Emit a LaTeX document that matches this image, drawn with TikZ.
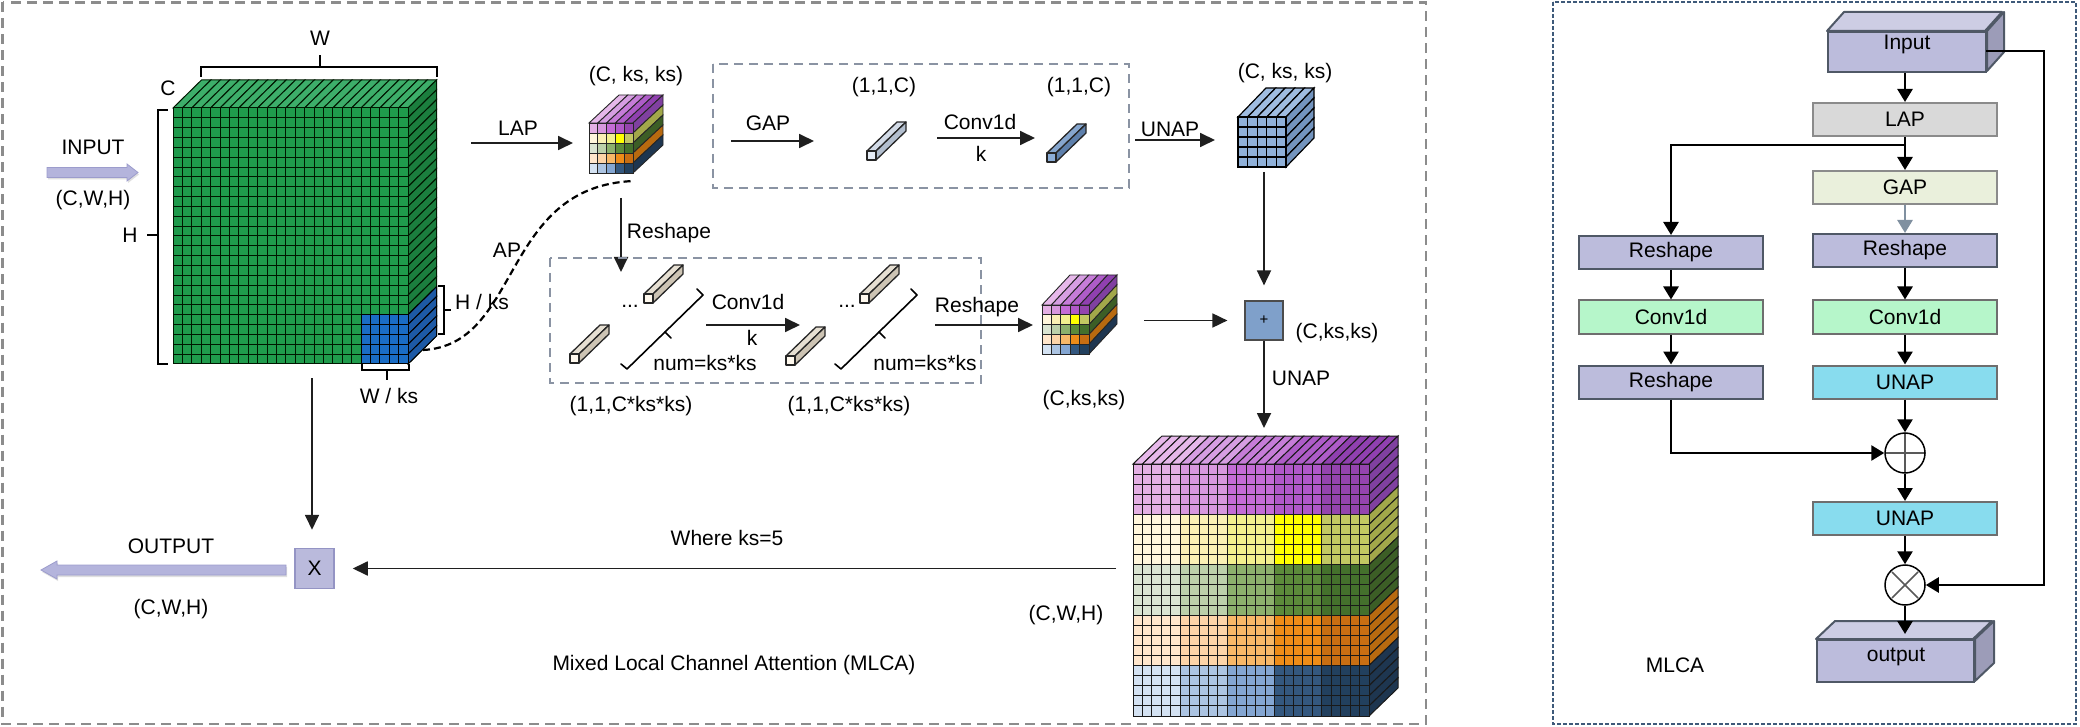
\documentclass[tikz,border=0pt]{standalone}
\usepackage{fontspec}
\setmainfont{Liberation Sans}
\usetikzlibrary{arrows.meta,decorations.pathreplacing,shadows}

% green input cube
\definecolor{gr00}{HTML}{1F9B4C}
\definecolor{grt0}{HTML}{3DAE6A}
\definecolor{grs0}{HTML}{1B7E3E}
\definecolor{blf}{HTML}{1A6CC4}
\definecolor{bls}{HTML}{1D5AA6}
% coloured cubes
\definecolor{c00}{HTML}{E4B0E4}\definecolor{c01}{HTML}{D898DE}\definecolor{c02}{HTML}{C46CD6}\definecolor{c03}{HTML}{B058C8}\definecolor{c04}{HTML}{9444AE}
\definecolor{c10}{HTML}{FFF6DC}\definecolor{c11}{HTML}{FAF0B4}\definecolor{c12}{HTML}{F2F08E}\definecolor{c13}{HTML}{FFFF00}\definecolor{c14}{HTML}{C2C862}
\definecolor{c20}{HTML}{DAE4D2}\definecolor{c21}{HTML}{BCD0AA}\definecolor{c22}{HTML}{8CB06C}\definecolor{c23}{HTML}{5C8A3A}\definecolor{c24}{HTML}{44702C}
\definecolor{c30}{HTML}{FFE6CC}\definecolor{c31}{HTML}{FDD4A8}\definecolor{c32}{HTML}{F8B868}\definecolor{c33}{HTML}{EE8C18}\definecolor{c34}{HTML}{C86E12}
\definecolor{c40}{HTML}{D4E2F2}\definecolor{c41}{HTML}{ACC4E2}\definecolor{c42}{HTML}{84A6D2}\definecolor{c43}{HTML}{34587F}\definecolor{c44}{HTML}{22405E}
\definecolor{ct0}{HTML}{E6B8EA}\definecolor{ct1}{HTML}{D69EE2}\definecolor{ct2}{HTML}{C67CD8}\definecolor{ct3}{HTML}{AE5CC8}\definecolor{ct4}{HTML}{9040B0}
\definecolor{cs0}{HTML}{8040A0}\definecolor{cs1}{HTML}{A2A84A}\definecolor{cs2}{HTML}{3C5E26}\definecolor{cs3}{HTML}{B86A10}\definecolor{cs4}{HTML}{1E3650}
% UNAP cube
\definecolor{ub00}{HTML}{8FB0D8}\definecolor{ubt0}{HTML}{9FBCE0}\definecolor{ubs0}{HTML}{7394BE}
% bars
\definecolor{baf}{HTML}{FFF9EE}\definecolor{bat}{HTML}{E6DFD2}\definecolor{bas}{HTML}{CDC4B4}
\definecolor{bbf}{HTML}{E6EDF6}\definecolor{bbt}{HTML}{D2DAE6}\definecolor{bbs}{HTML}{B2BECE}
\definecolor{bcf}{HTML}{8CAED8}\definecolor{bct}{HTML}{86A6CE}\definecolor{bcs}{HTML}{5E80AC}
% misc
\definecolor{dashg}{HTML}{8A93A3}
\definecolor{outerg}{HTML}{8C8C8C}
\definecolor{rbd}{HTML}{3E5A7A}
\definecolor{lav}{HTML}{B4B4DC}
\definecolor{lavd}{HTML}{9C9CCC}
\definecolor{xboxf}{HTML}{BABADC}
\definecolor{xboxd}{HTML}{9494C4}
\definecolor{plusf}{HTML}{7FA0CA}
\definecolor{inpf}{HTML}{BCBCDC}
\definecolor{inpt}{HTML}{CDCDE4}
\definecolor{inps}{HTML}{9C9CB8}
\definecolor{inpd}{HTML}{4F5866}
\definecolor{lapf}{HTML}{D9D9D9}
\definecolor{gapf}{HTML}{EAF0DC}
\definecolor{cnvf}{HTML}{B6F6CA}
\definecolor{unf}{HTML}{88DCEE}
\definecolor{boxd}{HTML}{6E6E6E}
\definecolor{grayarrow}{HTML}{8090A0}

\def\mlgroup{1}
% #1 prefix, #2 x, #3 y, #4 ncols, #5 nrows, #6 w, #7 h, #8 dx, #9 dy
\newcommand\mlcube[9]{%
  \pgfmathtruncatemacro\mlnc{#4-1}%
  \pgfmathtruncatemacro\mlnr{#5-1}%
  \foreach \i in {0,...,\mlnc}{%
    \pgfmathtruncatemacro\mlsh{int(\i/\mlgroup)}%
    \filldraw[mlcl, fill=#1t\mlsh] ({#2+\i*#6},{#3}) -- ++({#8},{#9}) -- ++({#6},0) -- ++({-(#8)},{-(#9)}) -- cycle;
  }%
  \foreach \j in {0,...,\mlnr}{%
    \pgfmathtruncatemacro\mlbd{int(\j/\mlgroup)}%
    \filldraw[mlcl, fill=#1s\mlbd] ({#2+#4*#6},{#3+\j*#7}) -- ++({#8},{#9}) -- ++(0,{#7}) -- ++({-(#8)},{-(#9)}) -- cycle;
    \foreach \i in {0,...,\mlnc}{%
      \pgfmathtruncatemacro\mlsh{int(\i/\mlgroup)}%
      \filldraw[mlcl, fill=#1\mlbd\mlsh] ({#2+\i*#6},{#3+\j*#7}) rectangle ++({#6},{#7});
    }%
  }%
}
% small 3D bar: #1 x, #2 y of bottom-left of front face, #3 colour prefix
\newcommand\mlbar[3]{%
  \filldraw[barl, fill=#3t] ({#1},{#2-9}) -- ++(30,-29) -- ++(9,0) -- ++(-30,29) -- cycle;
  \filldraw[barl, fill=#3s] ({#1+9},{#2-9}) -- ++(30,-29) -- ++(0,9) -- ++(-30,29) -- cycle;
  \filldraw[barl, fill=#3f] ({#1},{#2}) rectangle ++(9,-9);
}
% slanted bracket: #1 x, #2 y of its lower corner
\newcommand\mlbrack[2]{%
  \draw[line width=1.6pt, line join=round, line cap=round] ({#1-6},{#2-5}) -- ({#1},{#2}) -- ({#1+76},{#2-74}) -- ({#1+70},{#2-80});
  \draw[line width=1.6pt, line cap=round] ({#1+38},{#2-37}) -- ({#1+44},{#2-31});
}

\tikzset{
  mlcl/.style={draw=black!85, line width=0.8pt},
  barl/.style={draw=black!85, line width=1.3pt, line join=round},
  lbl/.style={font=\fontsize{21}{25}\selectfont, inner sep=0pt},
  arr/.style={line width=1.8pt, draw=black!88, -{Triangle[length=15pt,width=14pt]}},
  rarr/.style={line width=2.6pt, -{Triangle[length=13pt,width=15pt]}},
  brk/.style={line width=2.6pt, line cap=rect},
  idash/.style={draw=dashg, line width=2.4pt, dash pattern=on 9pt off 6pt},
  rbox/.style={minimum width=184pt, minimum height=33pt, inner sep=0pt, line width=2pt, draw=boxd, font=\fontsize{21}{25}\selectfont},
  circ/.style={circle, draw=black, line width=1.5pt, fill=white, minimum size=40pt, inner sep=0pt},
}

\begin{document}
\begin{tikzpicture}[x=1pt,y=-1pt]
\useasboundingbox (0,0) rectangle (2080,727);
\fill[white] (0,0) rectangle (2080,727);

% ---------------- frames ----------------
\draw[draw=outerg, line width=2.6pt, dash pattern=on 10pt off 6pt] (2.5,2.5) rectangle (1426,724);
\draw[draw=rbd, line width=1.6pt, dash pattern=on 4pt off 2pt] (1553,2) rectangle (2076,724);

% ---------------- green input cube ----------------
\tikzset{mlcl/.style={draw=black!70!green!30!black, line width=1.0pt}}
\def\mlgroup{100}
\mlcube{gr}{173}{108}{25}{26}{9.4}{9.846}{28.5}{-28}
\foreach \j in {21,...,25}{
  \filldraw[draw=black, line width=1.0pt, fill=bls] (408,{108+\j*9.846}) -- ++(28.5,-28) -- ++(0,9.846) -- ++(-28.5,28) -- cycle;
  \foreach \i in {20,...,24}{
    \filldraw[draw=black, line width=1.0pt, fill=blf] ({173+\i*9.4},{108+\j*9.846}) rectangle ++(9.4,9.846);
  }
}

% brackets
\draw[brk] (201,76) -- (201,67) -- (437,67) -- (437,76);
\draw[brk] (320,67) -- (320,56);
\draw[brk] (167,110) -- (158,110) -- (158,364) -- (167,364);
\draw[brk] (158,235) -- (148,235);
\draw[brk] (439,286) -- (444,286) -- (444,334) -- (439,334);
\draw[brk] (444,310) -- (450,310);
\draw[brk] (362,365) -- (362,370) -- (409,370) -- (409,365);
\draw[brk] (387,370) -- (387,379);

\node[lbl] (tW) at (320,38) {W};
\node[lbl] (tC) at (168,88) {C};
\node[lbl] (tH) at (130,235) {H};
\node[lbl, anchor=west] (tHks) at (455,302) {H / ks};
\node[lbl] (tWks) at (389,396) {W / ks};

% INPUT block arrow
\filldraw[fill=lav, draw=lavd, line width=0.8pt, drop shadow={opacity=0.25, shadow xshift=1pt, shadow yshift=-2pt}]
  (47,167.5) -- (127,167.5) -- (127,164) -- (138,172.5) -- (127,181) -- (127,177.5) -- (47,177.5) -- cycle;
\node[lbl] (tIn) at (93,147) {INPUT};
\node[lbl] (tInS) at (93,200) {(C,W,H)};

% ---------------- LAP ----------------
\coordinate (lapS) at (471,143);
\coordinate (lapE) at (573,143);
\draw[arr] (lapS) -- (lapE);
\node[lbl] (tLAP) at (518,128) {LAP};

\tikzset{mlcl/.style={draw=black!85, line width=0.9pt}}
\def\mlgroup{1}
\mlcube{c}{589}{123}{5}{5}{8.8}{10}{30}{-28}
\node[lbl] (tlapc) at (636,76) {(C, ks, ks)};

% AP dashed curve
\coordinate (apA) at (423,350);
\coordinate (apB) at (634,181);
\draw[line width=2.2pt, dash pattern=on 7pt off 4pt] (apA) .. controls (522,345) and (500,186) .. (apB);
\node[lbl] (tAP) at (507,250) {AP};

% ---------------- GAP branch ----------------
\draw[idash] (713,64) rectangle (1129,188);
\coordinate (gapS) at (731,141);
\coordinate (gapE) at (814,141);
\draw[arr] (gapS) -- (gapE);
\node[lbl] (tGAP) at (768,123) {GAP};
\mlbar{867}{160}{bb}
\node[lbl] (t11c1) at (884,87) {(1,1,C)};
\coordinate (cv1S) at (937,138);
\coordinate (cv1E) at (1035,138);
\draw[arr] (cv1S) -- (cv1E);
\node[lbl] (tcv1) at (980,122) {Conv1d};
\node[lbl] (tk1) at (981,154) {k};
\mlbar{1047}{162}{bc}
\node[lbl] (t11c2) at (1079,87) {(1,1,C)};

\coordinate (unS) at (1135,140);
\coordinate (unE) at (1215,140);
\draw[arr] (unS) -- (unE);
\node[lbl] (tUN1) at (1170,129) {UNAP};

\tikzset{mlcl/.style={draw=black, line width=1.2pt}}
\def\mlgroup{100}
\mlcube{ub}{1238}{117}{5}{5}{9.6}{10}{28}{-29}
\node[lbl] (tunc) at (1285,73) {(C, ks, ks)};

% ---------------- local branch ----------------
\coordinate (rsS) at (621,198);
\coordinate (rsE) at (621,272);
\draw[arr] (rsS) -- (rsE);
\node[lbl] (tRs1) at (669,233) {Reshape};

\draw[idash] (550,258) rectangle (981,383);
\mlbar{570}{363}{ba}
\mlbar{644}{303}{ba}
\node[lbl] (tdots1) at (630,306) {...};
\mlbrack{627}{369}
\node[lbl] (tnum1) at (705,363) {num=ks*ks};

\coordinate (cv2S) at (706,325);
\coordinate (cv2E) at (800,325);
\draw[arr] (cv2S) -- (cv2E);
\node[lbl] (tcv2) at (748,302) {Conv1d};
\node[lbl] (tk2) at (752,338) {k};

\mlbar{786}{365}{ba}
\mlbar{860}{303}{ba}
\node[lbl] (tdots2) at (847,306) {...};
\mlbrack{841}{369}
\node[lbl] (tnum2) at (925,363) {num=ks*ks};

\coordinate (rs2S) at (935,325);
\coordinate (rs2E) at (1033,325);
\draw[arr] (rs2S) -- (rs2E);
\node[lbl] (tRs2) at (977,307) {Reshape};

\node[lbl] (tcks1) at (631,406) {(1,1,C*ks*ks)};
\node[lbl] (tcks2) at (849,406) {(1,1,C*ks*ks)};

\tikzset{mlcl/.style={draw=black!85, line width=0.9pt}}
\def\mlgroup{1}
\mlcube{c}{1042}{305}{5}{5}{9.4}{9.8}{28}{-30}
\node[lbl] (tc2) at (1084,400) {(C,ks,ks)};

% ---------------- plus ----------------
\node[draw=black!70, fill=plusf, line width=1.2pt, minimum width=38pt, minimum height=39pt, inner sep=0pt, font=\fontsize{15}{18}\selectfont] (pl) at (1264,320.5) {+};
\node[lbl] (tplc) at (1337,333) {(C,ks,ks)};
\coordinate (ucB) at (1264,172);
\draw[arr, shorten >=15pt] (ucB) -- (pl.north);
\coordinate (c2E) at (1144,320.5);
\draw[arr, shorten >=17pt] (c2E) -- (pl.west);
\coordinate (bigT) at (1264,428);
\draw[arr] (pl.south) -- (bigT);
\node[lbl] (tUN2) at (1301,378) {UNAP};

% ---------------- big output cube ----------------
\tikzset{mlcl/.style={draw=black!90, line width=1.0pt}}
\def\mlgroup{5}
\mlcube{c}{1133}{464}{25}{25}{9.44}{10.08}{29}{-28}
\node[lbl] (tbigc) at (1066,615) {(C,W,H)};

% ---------------- multiplication / output ----------------
\node[draw=xboxd, fill=xboxf, line width=1.5pt, minimum width=39pt, minimum height=40pt, inner sep=0pt, lbl] (xb) at (314.5,568.5) {X};
\coordinate (cubeB) at (312,378);
\draw[arr, shorten >=18pt] (cubeB) -- (cubeB |- xb.north);
\coordinate (bigL) at (1116,568.5);
\draw[arr, shorten >=18pt] (bigL) -- (xb.east);
\node[lbl] (twks) at (727,538) {Where ks=5};

\filldraw[fill=lav, draw=lavd, line width=0.8pt, drop shadow={opacity=0.25, shadow xshift=1pt, shadow yshift=-2pt}]
  (286,565) -- (57,565) -- (57,561) -- (41,570) -- (57,579) -- (57,575) -- (286,575) -- cycle;
\node[lbl] (tOut) at (171,546) {OUTPUT};
\node[lbl] (tOutS) at (171,609) {(C,W,H)};
\node[lbl] (tTitle) at (734,665) {Mixed Local Channel Attention (MLCA)};

% ================= right panel =================
\node[rbox, fill=inpf, draw=inpd, minimum width=158pt, minimum height=40pt] (inp) at (1907,52) {};
\filldraw[fill=inpt, draw=inpd, line width=2pt, line join=round] (inp.north west) -- ++(17,-19) -- ++(158,0) -- ++(-17,19) -- cycle;
\filldraw[fill=inps, draw=inpd, line width=2pt, line join=round] (inp.north east) -- ++(17,-19) -- ++(0,40) -- ++(-17,19) -- cycle;
\node[lbl] (tinp) at (1907,44) {Input};

\node[rbox, fill=lapf, draw=boxd!80] (lap) at (1905,119.5) {LAP};
\node[rbox, fill=gapf, draw=boxd!80] (gap) at (1905,187.5) {GAP};
\node[rbox, fill=inpf, draw=inpd] (rsr) at (1905,250.5) {Reshape};
\node[rbox, fill=cnvf] (cvr) at (1905,317) {Conv1d};
\node[rbox, fill=unf] (unr) at (1905,382) {UNAP};
\node[rbox, fill=inpf, draw=inpd] (rsl) at (1671,252.5) {Reshape};
\node[rbox, fill=cnvf] (cvl) at (1671,317) {Conv1d};
\node[rbox, fill=inpf, draw=inpd] (rsl2) at (1671,382) {Reshape};
\node[circ] (plus) at (1905,453) {};
\draw[black!65, line width=1.5pt] (1905,434) -- (1905,472) (1886,453) -- (1924,453);
\node[rbox, fill=unf] (un2) at (1905,518.5) {UNAP};
\node[circ] (times) at (1905,585) {};
\draw[black!65, line width=1.5pt] (1892,572) -- (1918,598) (1892,598) -- (1918,572);

\node[rbox, fill=inpf, draw=inpd, minimum width=157pt, minimum height=42pt] (outb) at (1895.5,661) {};
\filldraw[fill=inpt, draw=inpd, line width=2pt, line join=round] (outb.north west) -- ++(19,-18) -- ++(157,0) -- ++(-19,18) -- cycle;
\filldraw[fill=inps, draw=inpd, line width=2pt, line join=round] (outb.north east) -- ++(19,-18) -- ++(0,42) -- ++(-19,18) -- cycle;
\node[lbl] (toutb) at (1896,657) {output};
\node[lbl] (tmlca) at (1675,665) {MLCA};

\draw[rarr] (lap.north |- inp.south) -- (lap.north);
\draw[rarr] (lap.south) -- (gap.north);
\coordinate (br) at (1905,145);
\draw[rarr] (br) -| (rsl.north);
\draw[rarr, draw=grayarrow] (gap.south) -- (rsr.north);
\draw[rarr] (rsr.south) -- (cvr.north);
\draw[rarr] (cvr.south) -- (unr.north);
\draw[rarr] (rsl.south) -- (cvl.north);
\draw[rarr] (cvl.south) -- (rsl2.north);
\draw[rarr] (rsl2.south) |- (plus.west);
\draw[rarr] (unr.south) -- (plus.north);
\draw[rarr] (plus.south) -- (un2.north);
\draw[rarr] (un2.south) -- (times.north);
\coordinate (outtip) at (1905,634);
\draw[rarr] (times.south) -- (outtip);
\coordinate (inr) at (1986,51);
\coordinate (rt) at (2044,51);
\draw[rarr] (inr) -- (rt) |- (times.east);
\end{tikzpicture}
\end{document}
